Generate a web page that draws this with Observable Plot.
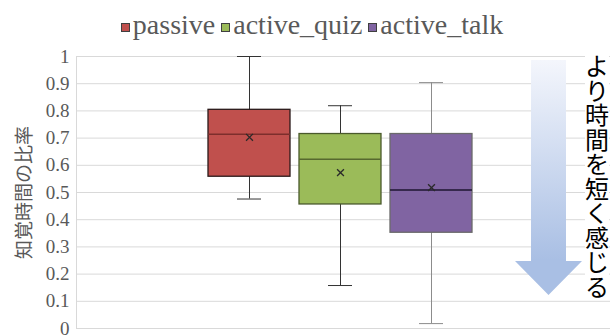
<!DOCTYPE html>
<html>
<head>
<meta charset="utf-8">
<script src="https://cdn.jsdelivr.net/npm/d3@7"></script>
<script src="https://cdn.jsdelivr.net/npm/@observablehq/plot@0.6"></script>
<style>
  html, body { margin: 0; padding: 0; background: #fff; }
  #chart { position: relative; width: 612px; height: 336px; overflow: hidden; }
  #chart svg { overflow: visible; }
  #legend {
    height: 42px; display: flex; justify-content: center; align-items: flex-end;
    padding-left: 12px; box-sizing: border-box;
    font-family: "Liberation Serif", "Times New Roman", Times, "DejaVu Serif", serif;
    font-size: 28px; color: #595959;
  }
  #legend .item { display: flex; align-items: center; margin: 0 3px; line-height: 34px; }
  #legend .sw { width: 7px; height: 7px; border: 1px solid #404040; margin-right: 3px; margin-top: 4px; }
  #arrow {
    position: absolute; left: 515px; top: 60px; width: 67px; height: 235px;
    background: linear-gradient(to bottom, #f4f6fc 0%, #a9bfe4 85%, #a9bfe4 100%);
    clip-path: polygon(16px 0, 51px 0, 51px 201px, 67px 201px, 33.5px 235px, 0 201px, 16px 201px);
  }
  #note {
    position: absolute; left: 585px; top: 53px; width: 24px;
    font-family: "Noto Sans CJK JP", sans-serif; font-size: 24px; line-height: 24.5px;
    word-break: break-all; text-align: center; color: #000; background: #fff;
  }
</style>
</head>
<body>
<div id="chart">
  <div id="legend"></div>
</div>
<script>
// Box-plot summary per condition
const series = ["passive", "active_quiz", "active_talk"];
const whiskerLow = [0.476, 0.158, 0.018];
const q1 = [0.558, 0.456, 0.352];
const median = [0.714, 0.622, 0.509];
const q3 = [0.804, 0.715, 0.715];
const whiskerHigh = [1.0, 0.819, 0.904];
const mean = [0.703, 0.573, 0.518];

const yTicks = [0, 0.1, 0.2, 0.3, 0.4, 0.5, 0.6, 0.7, 0.8, 0.9, 1];
const yLabel = "知覚時間の比率";
const noteText = "より時間を短く感じる";

// Series styling
const fills = ["#c0504d", "#9bbb59", "#8064a2"];
const borders = ["#2a1a1a", "#4a5a2c", "#6a6a6a"];
const whiskerColors = ["#333333", "#333333", "#8c8c8c"];
const medianColors = ["#7d2e2c", "#56692e", "#1e1430"];

const serif = "Liberation Serif, Times New Roman, Times, DejaVu Serif, serif";

const rows = series.map((s, i) => ({
  series: s, lo: whiskerLow[i], q1: q1[i], med: median[i], q3: q3[i], hi: whiskerHigh[i], mean: mean[i],
  fill: fills[i], border: borders[i], whisker: whiskerColors[i], medColor: medianColors[i]
}));

// Legend
const legend = document.getElementById("legend");
series.forEach((s, i) => {
  const item = document.createElement("span");
  item.className = "item";
  const sw = document.createElement("span");
  sw.className = "sw";
  sw.style.background = fills[i];
  item.appendChild(sw);
  item.appendChild(document.createTextNode(s));
  legend.appendChild(item);
});

const capInset = 29;

const chart = Plot.plot({
  width: 612,
  height: 294,
  marginLeft: 76,
  marginRight: 2,
  marginTop: 14,
  marginBottom: 8,
  style: { background: "transparent", overflow: "visible" },
  x: { domain: series, range: [208, 472], paddingInner: 0.1, paddingOuter: 0, axis: null },
  y: { domain: [0, 1] },
  color: { type: "identity" },
  marks: [
    Plot.ruleY(yTicks, { stroke: "#d9d9d9", strokeWidth: 1 }),
    Plot.frame({ anchor: "left", stroke: "#d9d9d9" }),
    Plot.axisY({
      ticks: yTicks, tickSize: 0, tickPadding: 7, label: null,
      tickFormat: d => String(Math.round(d * 10) / 10),
      fontSize: 19, fontFamily: serif, fill: "#595959"
    }),
    Plot.text([yLabel], {
      frameAnchor: "left", rotate: -90, dx: -52, text: d => d,
      fontSize: 19, fontFamily: "Noto Sans CJK JP, sans-serif", fill: "#595959",
      textAnchor: "middle", lineAnchor: "middle"
    }),
    // whiskers and caps
    Plot.ruleX(rows, { x: "series", y1: "lo", y2: "hi", stroke: "whisker", strokeWidth: 1 }),
    Plot.tickY(rows, { x: "series", y: "lo", stroke: "whisker", insetLeft: capInset, insetRight: capInset }),
    Plot.tickY(rows, { x: "series", y: "hi", stroke: "whisker", insetLeft: capInset, insetRight: capInset }),
    // boxes
    Plot.barY(rows, { x: "series", y1: "q1", y2: "q3", fill: "fill", stroke: "border", strokeWidth: 1.3, inset: 0 }),
    // medians
    Plot.tickY(rows, { x: "series", y: "med", stroke: "medColor", strokeWidth: 1.6 }),
    // means
    Plot.dot(rows, { x: "series", y: "mean", symbol: "times", r: 3.2, stroke: "#2a2a2a", strokeWidth: 1.3 })
  ]
});

const root = document.getElementById("chart");
root.appendChild(chart);

const arrow = document.createElement("div");
arrow.id = "arrow";
root.appendChild(arrow);

const note = document.createElement("div");
note.id = "note";
note.textContent = noteText;
root.appendChild(note);
</script>
</body>
</html>
